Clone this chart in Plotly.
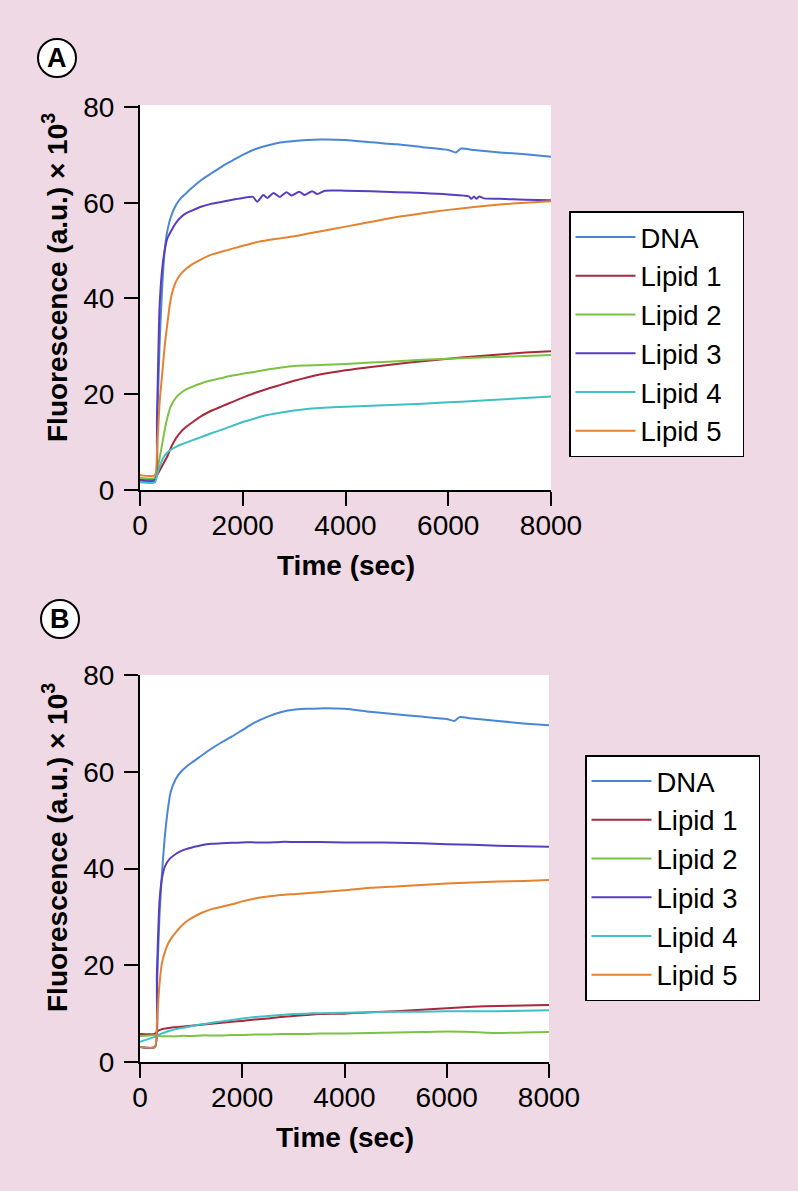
import plotly.graph_objects as go

# ---------------- data ----------------
series_names = ["DNA", "Lipid 1", "Lipid 2", "Lipid 3", "Lipid 4", "Lipid 5"]
series_colors = ["#4A86D4", "#A8283C", "#7DC242", "#5A3DBE", "#40BFC4", "#E5822F"]

x_ticks = [0, 2000, 4000, 6000, 8000]
y_ticks = [0, 20, 40, 60, 80]

# common time grid (sec)
t_common = [0, 290, 330, 380, 430, 480, 530, 600, 700, 800, 900, 1000, 1200, 1400, 1600,
            1800, 2000, 2250, 2500, 2750, 3000, 3250, 3500, 4000, 4500, 5000, 5500, 6000,
            6500, 7000, 7500, 8000]
# DNA time grid (includes the small step near 6200 s)
t_dna = [0, 290, 330, 380, 430, 480, 530, 600, 700, 800, 900, 1000, 1200, 1400, 1600,
         1800, 2000, 2250, 2500, 2750, 3000, 3250, 3500, 4000, 4500, 5000, 5500, 6000,
         6150, 6250, 6500, 7000, 7500, 8000]
# Lipid 3 (panel A) time grid (includes the oscillations)
t_lip3_a = [0, 290, 330, 380, 430, 480, 530, 600, 700, 800, 900, 1000, 1200, 1400, 1600,
            1800, 2000, 2200, 2280, 2400, 2480, 2600, 2720, 2850, 2950, 3100, 3200, 3350,
            3450, 3600, 4000, 4500, 5000, 5500, 6000, 6400, 6450, 6500, 6550, 6600, 6700,
            7000, 7500, 8000]

# Panel A values (fluorescence x 10^3)
dna_a = [2.2, 2.2, 12, 30, 42, 50, 54, 57, 59.5, 61, 62, 63, 64.8, 66.2, 67.6, 68.8, 70,
         71.2, 72, 72.6, 72.9, 73.1, 73.2, 73.1, 72.6, 72.2, 71.6, 71.0, 70.5, 71.3, 71.0,
         70.5, 70.1, 69.6]
lip1_a = [2.3, 2.3, 3.0, 4.0, 5.0, 6.0, 7.0, 8.8, 10.8, 12.2, 13.2, 14.0, 15.5, 16.6, 17.5,
          18.4, 19.3, 20.3, 21.2, 22.0, 22.8, 23.5, 24.1, 25.0, 25.7, 26.3, 26.9, 27.4,
          27.9, 28.3, 28.7, 29.0]
lip2_a = [2.5, 2.5, 4.0, 6.5, 9.5, 12.5, 15.0, 17.5, 19.3, 20.3, 21.0, 21.5, 22.3, 22.9,
          23.4, 23.9, 24.3, 24.7, 25.2, 25.6, 25.9, 26.0, 26.1, 26.3, 26.6, 26.9, 27.2,
          27.4, 27.6, 27.8, 28.0, 28.2]
lip3_a = [2.0, 2.0, 15, 38, 46, 50, 52.5, 54, 55.8, 57, 57.8, 58.3, 59.2, 59.8, 60.2, 60.6,
          61.0, 61.2, 60.2, 61.6, 61.0, 62.0, 61.2, 62.2, 61.5, 62.3, 61.6, 62.4, 61.8, 62.5,
          62.5, 62.4, 62.2, 62.0, 61.7, 61.3, 60.8, 61.3, 60.8, 61.3, 60.9, 60.8, 60.6, 60.5]
lip4_a = [1.6, 1.6, 3.0, 4.8, 6.2, 7.2, 7.8, 8.4, 9.0, 9.5, 9.9, 10.3, 11.1, 11.9, 12.6,
          13.4, 14.2, 15.0, 15.7, 16.2, 16.6, 16.9, 17.1, 17.4, 17.6, 17.8, 18.0, 18.3,
          18.6, 18.9, 19.2, 19.5]
lip5_a = [3.1, 3.1, 8, 18, 24, 30, 34.5, 40, 43.5, 45.2, 46.2, 47.0, 48.2, 49.2, 49.8, 50.4,
          51.0, 51.7, 52.2, 52.6, 53.0, 53.5, 54.0, 55.0, 56.0, 57.0, 57.8, 58.5, 59.1,
          59.6, 60.0, 60.3]

# Panel B values (fluorescence x 10^3)
dna_b = [3.1, 3.1, 15, 30, 39, 46, 51, 55.8, 58.5, 60, 61, 61.8, 63.3, 64.8, 66.1, 67.3,
         68.6, 70.2, 71.4, 72.3, 72.8, 73.0, 73.1, 73.0, 72.4, 71.9, 71.4, 70.9, 70.5, 71.3,
         71.0, 70.5, 70.0, 69.6]
lip1_b = [5.8, 5.8, 6.3, 6.6, 6.8, 6.9, 7.0, 7.1, 7.2, 7.3, 7.4, 7.5, 7.7, 7.9, 8.1, 8.3,
          8.5, 8.8, 9.0, 9.3, 9.5, 9.7, 9.9, 10.0, 10.3, 10.5, 10.8, 11.1, 11.4, 11.6, 11.7,
          11.8]
lip2_b = [5.4, 5.5, 5.4, 5.4, 5.3, 5.3, 5.3, 5.3, 5.3, 5.4, 5.4, 5.4, 5.5, 5.5, 5.5, 5.6,
          5.6, 5.7, 5.7, 5.8, 5.8, 5.8, 5.9, 5.9, 6.0, 6.1, 6.2, 6.3, 6.2, 6.0, 6.1, 6.2]
lip3_b = [3.1, 3.1, 18, 33, 38, 40.2, 41.3, 42.2, 43.0, 43.6, 44.0, 44.3, 44.8, 45.1, 45.2,
          45.3, 45.4, 45.4, 45.4, 45.5, 45.5, 45.5, 45.5, 45.4, 45.4, 45.3, 45.2, 45.0, 44.9,
          44.7, 44.6, 44.5]
lip4_b = [4.2, 5.2, 5.4, 5.7, 5.9, 6.1, 6.3, 6.5, 6.8, 7.0, 7.2, 7.4, 7.8, 8.1, 8.4, 8.7,
          9.0, 9.3, 9.5, 9.7, 9.9, 10.0, 10.1, 10.2, 10.3, 10.4, 10.4, 10.5, 10.5, 10.5,
          10.6, 10.7]
lip5_b = [3.1, 3.1, 8, 16, 20.5, 22.5, 24.0, 25.4, 26.8, 28.0, 29.0, 29.7, 30.8, 31.6, 32.1,
          32.6, 33.2, 33.8, 34.2, 34.5, 34.7, 34.9, 35.1, 35.5, 36.0, 36.3, 36.6, 36.9, 37.1,
          37.3, 37.4, 37.6]

panel_a = [(t_dna, dna_a), (t_common, lip1_a), (t_common, lip2_a),
           (t_lip3_a, lip3_a), (t_common, lip4_a), (t_common, lip5_a)]
panel_b = [(t_dna, dna_b), (t_common, lip1_b), (t_common, lip2_b),
           (t_common, lip3_b), (t_common, lip4_b), (t_common, lip5_b)]

# ---------------- figure ----------------
W, H = 798, 1191
PINK = "#EED9E4"
FONT = "Liberation Sans, Arial, Helvetica, sans-serif"
PAD = "\u00a0\u00a0"  # a little trailing room inside the legend box

fig = go.Figure()
for i, (tx, vy) in enumerate(panel_a):
    fig.add_trace(go.Scatter(x=tx, y=vy, mode="lines", name=series_names[i] + PAD,
                             line=dict(color=series_colors[i], width=2,
                                       shape="spline", smoothing=0.6),
                             xaxis="x", yaxis="y", legend="legend"))
for i, (tx, vy) in enumerate(panel_b):
    fig.add_trace(go.Scatter(x=tx, y=vy, mode="lines", name=series_names[i] + PAD,
                             line=dict(color=series_colors[i], width=2,
                                       shape="spline", smoothing=0.6),
                             xaxis="x2", yaxis="y2", legend="legend2"))


def px_x(p):
    return p / W


def px_y(p):
    return 1 - p / H


axis_common = dict(showline=True, linecolor="black", linewidth=2, mirror=False,
                   ticks="outside", ticklen=14, tickwidth=2, tickcolor="black",
                   showgrid=False, zeroline=False, automargin=False,
                   tickfont=dict(family=FONT, size=28, color="black"))

legend_common = dict(xanchor="left", yanchor="top",
                     bgcolor="white", bordercolor="black", borderwidth=1.5,
                     font=dict(family=FONT, size=27.5, color="black"), itemwidth=60,
                     tracegroupgap=0)

fig.update_layout(
    width=W, height=H,
    margin=dict(l=0, r=0, t=0, b=0, autoexpand=False),
    paper_bgcolor=PINK, plot_bgcolor="white",
    font=dict(family=FONT, color="black"),
    xaxis=dict(domain=[px_x(140), px_x(551)], range=[0, 8000], tickvals=x_ticks,
               anchor="y", ticklabelstandoff=-5, **axis_common),
    yaxis=dict(domain=[px_y(490), px_y(105)], range=[0, 80.4], tickvals=y_ticks,
               anchor="x", ticklabelstandoff=4, **axis_common),
    xaxis2=dict(domain=[px_x(140), px_x(549)], range=[0, 8000], tickvals=x_ticks,
                anchor="y2", ticklabelstandoff=-5, **axis_common),
    yaxis2=dict(domain=[px_y(1062), px_y(675)], range=[0, 80], tickvals=y_ticks,
                anchor="x2", ticklabelstandoff=4, **axis_common),
    legend=dict(x=px_x(569), y=px_y(211), **legend_common),
    legend2=dict(x=px_x(585), y=px_y(755), **legend_common),
    showlegend=True,
)

annots = [
    dict(text="<b>Time (sec)</b>", x=px_x(346), y=px_y(565)),
    dict(text="<b>Time (sec)</b>", x=px_x(345), y=px_y(1137)),
    dict(text="<b>Fluorescence (a.u.) × 10<sup>3</sup></b>", x=px_x(55), y=px_y(278),
         textangle=-90),
    dict(text="<b>Fluorescence (a.u.) × 10<sup>3</sup></b>", x=px_x(55), y=px_y(848),
         textangle=-90),
]
for a in annots:
    fig.add_annotation(xref="paper", yref="paper", showarrow=False,
                       xanchor="center", yanchor="middle",
                       font=dict(family=FONT, size=28, color="black"), **a)

# panel letters in circles
for letter, cx, cy in [("A", 57, 58), ("B", 60, 619)]:
    r = 19
    fig.add_shape(type="circle", xref="paper", yref="paper",
                  x0=px_x(cx - r), x1=px_x(cx + r), y0=px_y(cy + r), y1=px_y(cy - r),
                  line=dict(color="black", width=2), fillcolor="white")
    fig.add_annotation(xref="paper", yref="paper", showarrow=False,
                       x=px_x(cx), y=px_y(cy), xanchor="center", yanchor="middle",
                       text="<b>%s</b>" % letter,
                       font=dict(family=FONT, size=27, color="black"))

fig.write_html(
    "out.html",
    config={"displayModeBar": False},
    post_script="document.body.style.margin='0';document.body.style.padding='0';"
                "document.body.style.overflow='hidden';"
                "document.documentElement.style.overflow='hidden';",
)
